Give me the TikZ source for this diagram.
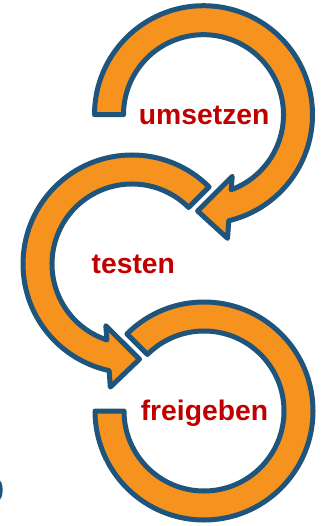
\documentclass[tikz,border=0pt]{standalone}
\usepackage{fontspec}
\setmainfont{Liberation Sans}
\usetikzlibrary{calc}
\definecolor{arrowfill}{RGB}{246,146,30}
\definecolor{arrowline}{RGB}{31,84,125}
\definecolor{labelred}{RGB}{192,0,0}
\begin{document}
\begin{tikzpicture}[x=1pt,y=1pt,
  cyclearrow/.style={fill=arrowfill, draw=arrowline, line width=5pt, line join=round},
  steplabel/.style={text=labelred, font=\bfseries\fontsize{28.3}{30}\selectfont, anchor=base, inner sep=0pt}]
\useasboundingbox (0,0) rectangle (322,-526);
\coordinate (T) at (203.5,-114.7);
\coordinate (M) at (132,-264);
\coordinate (B) at (204,-411);
% bottom ring (freigeben)
\draw[cyclearrow] ($(B)+(135:109)$) arc[start angle=135,end angle=-180,radius=109]
  -- ($(B)+(180:80)$) arc[start angle=-180,end angle=135,radius=80] -- cycle;
% middle arrow (testen)
\draw[cyclearrow] ($(M)+(45:109)$) arc[start angle=45,end angle=257.9,radius=109]
  -- ($(M)+(260:125)$) -- ($(M)+(274.5:95.5)$) -- ($(M)+(247:67)$)
  -- ($(M)+(251.7:80)$) arc[start angle=251.7,end angle=45,radius=80] -- cycle;
% top arrow (umsetzen)
\draw[cyclearrow] ($(T)+(180:109)$) arc[start angle=180,end angle=-76.6,radius=109]
  -- ($(T)+(-79:126)$) -- ($(T)+(-93.5:96.5)$) -- ($(T)+(-65:68)$)
  -- ($(T)+(-69.8:80)$) arc[start angle=-69.8,end angle=180,radius=80] -- cycle;
% labels
\node[steplabel] (umsetzen) at (204.2,-125) {umsetzen};
\node[steplabel] (testen) at (133.3,-273.3) {testen};
\node[steplabel] (freigeben) at (204.5,-420) {freigeben};
% partial shape at left edge
\begin{scope}
  \clip (0,0) rectangle (322,-526);
  \fill[arrowline] (-2,-490) ellipse[x radius=4.7, y radius=10.5];
\end{scope}
\end{tikzpicture}
\end{document}
